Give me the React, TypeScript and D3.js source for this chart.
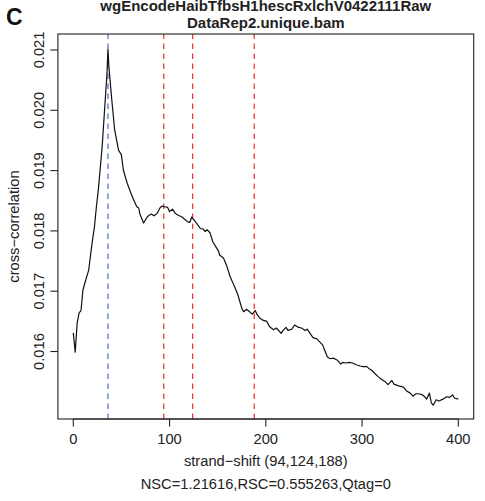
import React from "react";
import * as d3 from "d3";

const shifts = [0,2,4,6,8,10,13,16,19,22,24,26,30,32,35,36,37,40,43,47,50,52,56,60,62,66,68,69,73,76,78,81,84,87,90,92,95,98,100,103,106,109,113,116,119,121,123,126,128,132,135,137,139,142,145,148,151,152,156,159,163,166,169,171,173,175,177,180,183,186,189,191,194,197,201,204,208,211,216,218,221,223,227,230,234,237,241,243,246,249,253,256,259,261,264,267,270,274,278,280,283,287,290,294,298,301,305,307,310,313,317,320,324,327,331,333,338,343,346,350,353,356,359,363,365,367,370,372,374,377,380,384,388,391,394,396,400];
const crossCorr = [0.01631,0.01599,0.01647,0.01664,0.01668,0.01702,0.01719,0.01735,0.01774,0.01807,0.01840,0.01868,0.01940,0.01989,0.02061,0.02101,0.02072,0.02017,0.01967,0.01934,0.01926,0.01901,0.01879,0.01862,0.01854,0.01840,0.01838,0.01829,0.01813,0.01821,0.01825,0.01828,0.01825,0.01829,0.01838,0.01841,0.01840,0.01839,0.01832,0.01836,0.01829,0.01826,0.01823,0.01819,0.01815,0.01814,0.01823,0.01817,0.01813,0.01804,0.01803,0.01799,0.01802,0.01797,0.01782,0.01774,0.01766,0.01760,0.01755,0.01744,0.01724,0.01713,0.01702,0.01694,0.01683,0.01672,0.01666,0.01670,0.01666,0.01662,0.01668,0.01661,0.01655,0.01652,0.01650,0.01641,0.01636,0.01639,0.01630,0.01635,0.01640,0.01635,0.01637,0.01644,0.01640,0.01639,0.01635,0.01637,0.01630,0.01623,0.01621,0.01616,0.01611,0.01603,0.01591,0.01588,0.01589,0.01586,0.01579,0.01582,0.01581,0.01582,0.01581,0.01578,0.01576,0.01575,0.01575,0.01572,0.01569,0.01564,0.01558,0.01554,0.01550,0.01545,0.01552,0.01546,0.01543,0.01541,0.01535,0.01531,0.01526,0.01530,0.01530,0.01528,0.01525,0.01521,0.01531,0.01515,0.01511,0.01520,0.01518,0.01521,0.01525,0.01524,0.01528,0.01523,0.01521];

const xTicks = [0, 100, 200, 300, 400];
const yTicks = [0.016, 0.017, 0.018, 0.019, 0.02, 0.021];
const yTickLabels = ["0.016", "0.017", "0.018", "0.019", "0.020", "0.021"];
const peakShift = [36];
const phantomShifts = [94, 124, 188];

const titleLines = ["wgEncodeHaibTfbsH1hescRxlchV0422111Raw", "DataRep2.unique.bam"];
const panelLabel = "C";
const xLabel = "strand\u2212shift (94,124,188)";
const subLabel = "NSC=1.21616,RSC=0.555263,Qtag=0";
const yLabel = "cross\u2212correlation";

export default function App() {
  const W = 485, H = 501;
  const left = 57.9, right = 473.7, top = 34, bottom = 419;
  const x = d3.scaleLinear().domain([-16, 416]).range([left, right]);
  const y = d3.scaleLinear().domain([0.014881, 0.021265]).range([bottom, top]);
  const pts: [number, number][] = shifts.map((s, i) => [s, crossCorr[i]]);
  const line = d3.line<[number, number]>().x(d => x(d[0])).y(d => y(d[1]));
  const font = "'Liberation Sans', Arial, Helvetica, sans-serif";
  const fs = 14.7;
  const axisColor = "#222";
  return (
    <svg width={W} height={H} style={{ position: "absolute", left: 0, top: 0, background: "#fff" }} fontFamily={font}>
      <rect x={0} y={0} width={W} height={H} fill="#fff" />
      <text x={6} y={25} fontSize={23} fontWeight="bold" fill="#111">{panelLabel}</text>
      {titleLines.map((t, i) => (
        <text key={i} x={(left + right) / 2} y={11 + i * 17} textAnchor="middle" fontSize={15} fontWeight="bold" fill="#222">{t}</text>
      ))}
      {peakShift.map(s => (
        <line key={"b" + s} x1={x(s)} x2={x(s)} y1={bottom} y2={top} stroke="#4a6cc8" strokeWidth={1.2} strokeDasharray="5.5,4.5" />
      ))}
      {phantomShifts.map(s => (
        <line key={"r" + s} x1={x(s)} x2={x(s)} y1={bottom} y2={top} stroke="#f02a2a" strokeWidth={1.2} strokeDasharray="5.5,4.5" />
      ))}
      <path d={line(pts) || ""} fill="none" stroke="#111" strokeWidth={1.2} strokeLinejoin="round" />
      <rect x={left} y={top} width={right - left} height={bottom - top} fill="none" stroke={axisColor} strokeWidth={1.1} />
      <line x1={x(xTicks[0])} x2={x(xTicks[xTicks.length - 1])} y1={bottom} y2={bottom} stroke={axisColor} strokeWidth={1.1} />
      {xTicks.map(t => (
        <g key={"xt" + t}>
          <line x1={x(t)} x2={x(t)} y1={bottom} y2={bottom + 7.5} stroke={axisColor} strokeWidth={1.1} />
          <text x={x(t)} y={443.5} textAnchor="middle" fontSize={fs} fill="#222">{t}</text>
        </g>
      ))}
      {yTicks.map((t, i) => (
        <g key={"yt" + t}>
          <line x1={left - 7.5} x2={left} y1={y(t)} y2={y(t)} stroke={axisColor} strokeWidth={1.1} />
          <text transform={`translate(43.5,${y(t)}) rotate(-90)`} textAnchor="middle" fontSize={fs} fill="#222">{yTickLabels[i]}</text>
        </g>
      ))}
      <text x={(left + right) / 2} y={465.5} textAnchor="middle" fontSize={fs} fill="#222">{xLabel}</text>
      <text x={(left + right) / 2} y={488.5} textAnchor="middle" fontSize={fs} fill="#222">{subLabel}</text>
      <text transform={`translate(18.5,${(top + bottom) / 2}) rotate(-90)`} textAnchor="middle" fontSize={fs} fill="#222">{yLabel}</text>
    </svg>
  );
}
